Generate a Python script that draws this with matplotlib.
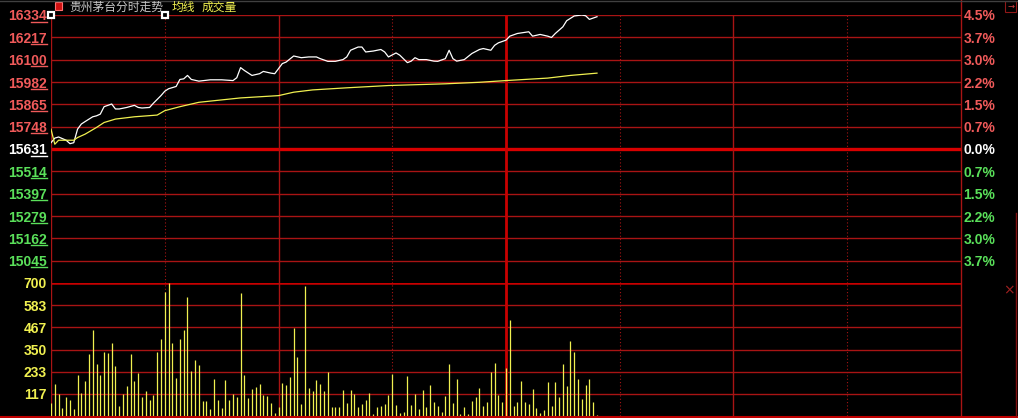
import matplotlib.pyplot as plt
import matplotlib.transforms as mtrans
from matplotlib.patches import Rectangle
from matplotlib.lines import Line2D

plt.rcParams['font.family'] = ['Noto Sans CJK SC', 'DejaVu Sans']

# 贵州茅台 分时走势 (价格 x10)
price_levels = [16334, 16217, 16100, 15982, 15865, 15748, 15631,
                15514, 15397, 15279, 15162, 15045]
pct_labels = ['4.5%', '3.7%', '3.0%', '2.2%', '1.5%', '0.7%', '0.0%',
              '0.7%', '1.5%', '2.2%', '3.0%', '3.7%']
pre_close = 15631
price_low = 14928
vol_levels = [700, 583, 467, 350, 233, 117]

# 价格线 (分钟, 价格)
price_min = [0, 1, 2, 4, 5, 6, 7, 8, 9, 11, 12, 13, 14, 16, 17, 18, 20, 22, 23, 24,
             26, 27, 29, 30, 31, 33, 34, 35, 36, 37, 39, 42, 45, 48, 49, 50, 51, 53,
             55, 56, 58, 59, 61, 62, 64, 66, 68, 70, 71, 73, 75, 77, 78, 79, 81, 82,
             83, 85, 87, 88, 89, 91, 92, 94, 95, 96, 97, 99, 101, 102, 104, 105, 106,
             107, 109, 111, 113, 114, 116, 117, 118, 120, 121, 123, 126, 127, 129,
             131, 132, 133, 135, 136, 138, 140, 141, 142, 144]
price = [15664, 15688, 15694, 15677, 15659, 15664, 15735, 15762, 15775, 15800,
         15805, 15814, 15853, 15867, 15841, 15841, 15849, 15860, 15849, 15846,
         15849, 15871, 15911, 15934, 15947, 15959, 15996, 15999, 16017, 15996,
         15987, 15994, 15994, 15990, 16005, 16058, 16043, 16017, 16026, 16038,
         16029, 16026, 16079, 16087, 16119, 16110, 16114, 16114, 16105, 16091,
         16091, 16100, 16114, 16149, 16166, 16166, 16140, 16145, 16153, 16140,
         16114, 16135, 16123, 16084, 16092, 16110, 16100, 16100, 16092, 16091,
         16105, 16149, 16105, 16092, 16100, 16132, 16153, 16158, 16149, 16175,
         16188, 16202, 16223, 16237, 16246, 16223, 16232, 16223, 16216, 16237,
         16272, 16304, 16329, 16334, 16330, 16311, 16325]

# 均线
avg_min = [0, 1, 2, 6, 7, 9, 12, 14, 17, 22, 28, 30, 34, 39, 50, 60, 64, 69, 78,
           89, 104, 113, 120, 131, 137, 144]
avg_price = [15735, 15656, 15677, 15677, 15691, 15709, 15744, 15770, 15788, 15800,
             15809, 15832, 15853, 15876, 15899, 15911, 15929, 15941, 15952, 15964,
             15973, 15981, 15990, 16003, 16017, 16029]

# 成交量 (每分钟)
volume = [67, 167, 116, 42, 100, 85, 37, 216, 121, 185, 327, 454, 275, 216, 338,
          333, 385, 264, 53, 116, 158, 327, 185, 227, 100, 132, 85, 111, 338, 407,
          655, 700, 385, 201, 407, 454, 628,
          238, 296, 269, 79, 79, 37, 195, 85, 42, 190, 85, 116, 100, 650, 216, 95,
          143, 153, 169, 111, 106, 69, 16, 48, 174, 164, 206, 465, 312, 63, 686,
          148, 132, 190, 169, 132,
          232, 48, 48, 48, 137, 69, 137, 116, 48, 63, 85, 121, 11, 48, 53, 63, 111,
          222, 58, 16, 21, 211, 58, 116, 37, 137, 48, 164, 74, 53, 21, 106, 275,
          69, 195, 11,
          48, 11, 79, 100, 148, 53, 74, 232, 280, 111, 74, 253, 507, 53, 74, 185,
          74, 63, 143, 42, 16, 32, 180, 53, 180, 100, 275, 158, 396, 338, 195, 90,
          164, 195, 74, 5]

GRID = '#a81414'
UP = '#f05a5a'
DOWN = '#5ae05a'
YEL = '#f0f050'
NUMFONT = dict(family='Liberation Sans', weight='bold', size=10)

W, H = 1018, 418
fig = plt.figure(figsize=(W / 100, H / 100), dpi=100, facecolor='black')


def fx(px):
    return px / W


def fy(py):
    return 1 - py / H


ax = fig.add_axes([fx(51), fy(283), fx(961) - fx(51), fy(15) - fy(283)])
axv = fig.add_axes([fx(51), fy(416), fx(961) - fx(51), fy(283) - fy(416)])
for a in (ax, axv):
    a.set_axis_off()
    a.set_xlim(0, 240)
ax.set_ylim(price_low, price_levels[0])
axv.set_ylim(0, vol_levels[0])

# 网格
for lv in price_levels:
    if lv == pre_close:
        ax.axhline(lv, color='#d80000', lw=2.4, zorder=1)
    else:
        ax.axhline(lv, color=GRID, lw=1.0, zorder=1)
for lv in vol_levels[1:]:
    axv.axhline(lv, color=GRID, lw=1.0, zorder=1)
axv.axhline(vol_levels[0], color='#c80000', lw=1.8, zorder=1)

for a in (ax, axv):
    for m in (30, 90, 150, 210):
        a.axvline(m, color=GRID, lw=0.8, ls=(0, (1, 2)), zorder=1)
    for m in (60, 180):
        a.axvline(m, color=GRID, lw=1.0, zorder=1)
    a.axvline(120, color='#c80000', lw=2.0, zorder=1)
    a.axvline(0, color=GRID, lw=1.0, zorder=1)

fig.add_artist(Line2D([fx(961), fx(961)], [fy(0), fy(416)], color=GRID, lw=1.0))
fig.add_artist(Line2D([0, 1], [fy(416.8), fy(416.8)], color='#c00000', lw=1.5))
fig.add_artist(Line2D([0, 1], [fy(0.5), fy(0.5)], color='#404040', lw=1.0))
fig.add_artist(Line2D([fx(1016), fx(1016)], [fy(213), fy(416)], color='#801010', lw=1.0))

# 价格与均线
ax.plot(price_min, price, color='white', lw=0.9, zorder=3)
ax.plot(avg_min, avg_price, color=YEL, lw=0.9, zorder=3)
ax.plot([0, 30], [price_levels[0]] * 2, ls='none', marker='s', ms=4.5,
        mfc='black', mec='white', mew=1.6, clip_on=False, zorder=5)

# 成交量
axv.vlines(range(len(volume)), 0, volume, color=YEL, lw=0.9, zorder=3)

# 坐标标签
ax_w = fig.get_figwidth() * fig.dpi * ax.get_position().width
left_tr = mtrans.blended_transform_factory(ax.transAxes, ax.transData)
for i, lv in enumerate(price_levels):
    if lv > pre_close:
        c = UP
    elif lv < pre_close:
        c = DOWN
    else:
        c = 'white'
    ax.text(-4.5 / ax_w, lv, str(lv), transform=left_tr, ha='right',
            va='center_baseline', color=c, **NUMFONT)
    ax.text(1 + 2.5 / ax_w, lv, pct_labels[i], transform=left_tr, ha='left',
            va='center_baseline', color=c, **NUMFONT)
    ul = left_tr + mtrans.ScaledTranslation(0, -6.5 / 100, fig.dpi_scale_trans)
    ax.add_line(Line2D([-20 / ax_w, -4.5 / ax_w], [lv, lv], transform=ul,
                       color=c, lw=1.0, clip_on=False))

vleft_tr = mtrans.blended_transform_factory(axv.transAxes, axv.transData)
for lv in vol_levels:
    axv.text(-4.5 / ax_w, lv, str(lv), transform=vleft_tr, ha='right',
             va='center_baseline', color=YEL, **NUMFONT)

# 标题
fig.add_artist(Rectangle((fx(55), fy(9.5)), fx(7), 7 / H, facecolor='#d01010',
                         edgecolor='#ff7070', lw=0.8))
fig.text(fx(69), fy(7.5), '贵州茅台分时走势', color='#c8c8c8', fontsize=8.5,
         va='center', ha='left')
fig.text(fx(172), fy(7.5), '均线', color=YEL, fontsize=8.5, va='center', ha='left')
fig.text(fx(202), fy(7.5), '成交量', color=YEL, fontsize=8.5, va='center', ha='left')

# 右侧小图标
fig.add_artist(Rectangle((fx(1005), fy(12)), fx(11), 11 / H, facecolor='none',
                         edgecolor='#901818', lw=0.8))
fig.text(fx(1010.5), fy(6), '→', color='#d04040', fontsize=6, ha='center',
         va='center', family='DejaVu Sans')
fig.text(fx(1009), fy(290), '×', color='#a02020', fontsize=10, ha='center',
         va='center', family='DejaVu Sans')

fig.savefig('out.png', dpi=100, facecolor='black')
